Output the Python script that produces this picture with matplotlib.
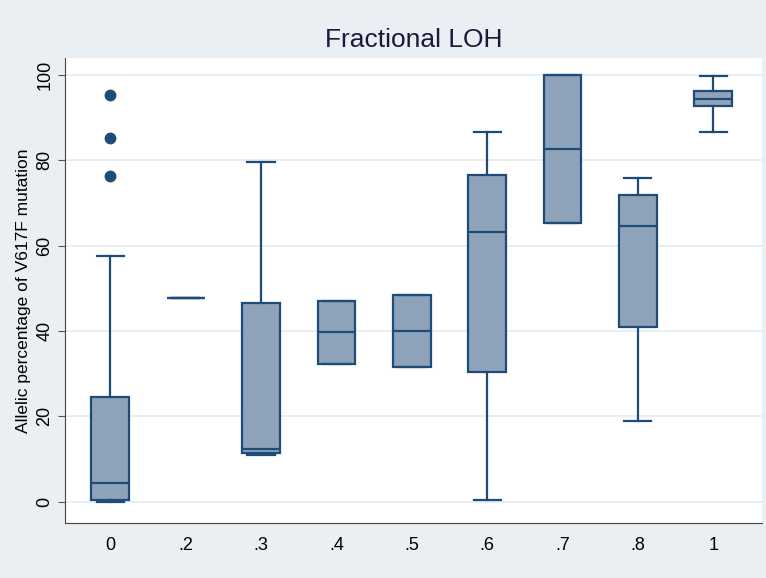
import matplotlib
matplotlib.use("Agg")
import matplotlib.pyplot as plt

plt.rcParams['font.family'] = ['Liberation Sans', 'DejaVu Sans']

labels = ['0', '.2', '.3', '.4', '.5', '.6', '.7', '.8', '1']
whislo = [0.0, 47.8, 11.0, 32.3, 31.5, 0.5, 65.3, 18.8, 86.7]
q1 = [0.5, 47.8, 11.5, 32.3, 31.5, 30.3, 65.3, 41.0, 92.6]
med = [4.5, 47.8, 12.3, 39.7, 40.0, 63.2, 82.7, 64.7, 94.3]
q3 = [24.5, 47.8, 46.5, 47.0, 48.5, 76.5, 100.0, 71.8, 96.3]
whishi = [57.5, 47.8, 79.5, 47.0, 48.5, 86.7, 100.0, 75.8, 99.7]
outliers = [[95.3, 85.3, 76.2], [], [], [], [], [], [], [], []]

edge = '#1f4b78'
fill = '#8ea3b9'
bg = '#e9eff3'

stats = []
for i in range(len(labels)):
    stats.append(dict(label=labels[i], whislo=whislo[i], q1=q1[i], med=med[i],
                      q3=q3[i], whishi=whishi[i], fliers=outliers[i]))

fig = plt.figure(figsize=(7.66, 5.78), dpi=100, facecolor=bg)
ax = fig.add_axes([0.085, 0.095, 0.91, 0.805])
ax.set_facecolor('white')

ax.bxp(stats, widths=0.5, capwidths=0.36, patch_artist=True,
       boxprops=dict(facecolor=fill, edgecolor=edge, linewidth=1.6),
       medianprops=dict(color=edge, linewidth=1.6),
       whiskerprops=dict(color=edge, linewidth=1.6),
       capprops=dict(color=edge, linewidth=1.6),
       flierprops=dict(marker='o', markerfacecolor=edge, markeredgecolor=edge,
                       markersize=7.5))

ax.set_xlim(0.40, 9.65)
ax.set_ylim(-5, 104)
ax.set_yticks([0, 20, 40, 60, 80, 100])
ax.set_yticklabels(['0', '20', '40', '60', '80', '100'], rotation=90, va='center')
ax.tick_params(axis='x', length=0, labelsize=13, pad=10)
ax.tick_params(axis='y', labelsize=13, length=5, color='#555555')
ax.grid(axis='y', color='#e1ecf1', linewidth=1.2)
ax.set_axisbelow(True)

for s in ['top', 'right']:
    ax.spines[s].set_visible(False)
ax.spines['left'].set_color('#444444')
ax.spines['bottom'].set_color('#444444')

ax.set_ylabel('Allelic percentage of V617F mutation', fontsize=12.5, labelpad=4)
ax.set_title('Fractional LOH', fontsize=19, color='#1a1a3a', pad=8)

fig.savefig('out.png', dpi=100, facecolor=bg)
